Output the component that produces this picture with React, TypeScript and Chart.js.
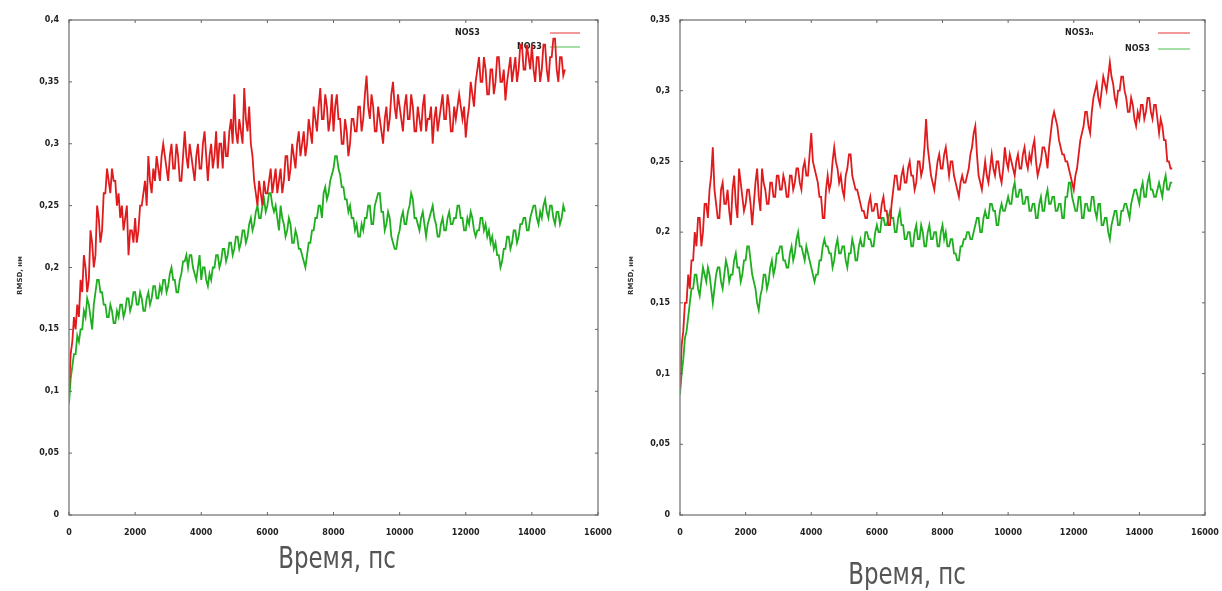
import React, { useEffect, useRef } from "react";
import { Chart, registerables } from "chart.js";

Chart.register(...registerables);

// ---------- DATA ----------
const TIME_STEP = 50; // ps between samples
const X_TICKS = [0, 2000, 4000, 6000, 8000, 10000, 12000, 14000, 16000];

// Left panel
const LEFT_Y_TICKS = [0, 0.05, 0.1, 0.15, 0.2, 0.25, 0.3, 0.35, 0.4];
const LEFT_LABELS = ["NOS3", "NOS3"];
const LEFT_RED = [
  0.10, 0.13, 0.14, 0.16, 0.15, 0.17, 0.16, 0.19, 0.18, 0.21,
  0.20, 0.18, 0.19, 0.23, 0.22, 0.20, 0.21, 0.25, 0.24, 0.22,
  0.23, 0.26, 0.26, 0.28, 0.27, 0.26, 0.28, 0.27, 0.27, 0.25,
  0.26, 0.24, 0.25, 0.23, 0.24, 0.25, 0.21, 0.23, 0.23, 0.22,
  0.24, 0.22, 0.23, 0.25, 0.25, 0.26, 0.27, 0.25, 0.29, 0.27,
  0.26, 0.28, 0.27, 0.29, 0.28, 0.27, 0.29, 0.30, 0.29, 0.28,
  0.27, 0.29, 0.30, 0.28, 0.28, 0.30, 0.29, 0.27, 0.27, 0.29,
  0.31, 0.29, 0.28, 0.30, 0.29, 0.28, 0.27, 0.29, 0.30, 0.28,
  0.28, 0.30, 0.31, 0.29, 0.27, 0.29, 0.30, 0.28, 0.29, 0.31,
  0.28, 0.30, 0.30, 0.28, 0.31, 0.29, 0.29, 0.31, 0.32, 0.30,
  0.34, 0.31, 0.30, 0.32, 0.31, 0.30, 0.345, 0.32, 0.31, 0.33,
  0.30, 0.29, 0.27, 0.26, 0.25, 0.27, 0.26, 0.25, 0.27, 0.26,
  0.26, 0.27, 0.28, 0.26, 0.27, 0.28, 0.26, 0.27, 0.28, 0.26,
  0.27, 0.29, 0.29, 0.27, 0.28, 0.30, 0.29, 0.28, 0.30, 0.31,
  0.29, 0.30, 0.31, 0.29, 0.30, 0.32, 0.31, 0.30, 0.33, 0.32,
  0.31, 0.33, 0.345, 0.32, 0.32, 0.34, 0.33, 0.31, 0.32, 0.34,
  0.31, 0.33, 0.34, 0.32, 0.32, 0.30, 0.30, 0.32, 0.31, 0.29,
  0.30, 0.32, 0.32, 0.31, 0.31, 0.33, 0.33, 0.31, 0.32, 0.34,
  0.355, 0.33, 0.32, 0.34, 0.33, 0.31, 0.31, 0.33, 0.32, 0.31,
  0.30, 0.32, 0.33, 0.31, 0.32, 0.34, 0.35, 0.33, 0.32, 0.34,
  0.33, 0.32, 0.31, 0.33, 0.34, 0.32, 0.32, 0.34, 0.33, 0.31,
  0.31, 0.33, 0.32, 0.31, 0.33, 0.34, 0.31, 0.32, 0.32, 0.33,
  0.30, 0.32, 0.33, 0.31, 0.32, 0.33, 0.34, 0.32, 0.32, 0.34,
  0.33, 0.31, 0.31, 0.33, 0.32, 0.33, 0.34, 0.33, 0.32, 0.33,
  0.305, 0.32, 0.33, 0.35, 0.34, 0.33, 0.35, 0.36, 0.37, 0.35,
  0.35, 0.37, 0.36, 0.34, 0.34, 0.36, 0.36, 0.34, 0.35, 0.37,
  0.37, 0.35, 0.35, 0.36, 0.335, 0.35, 0.36, 0.37, 0.35, 0.36,
  0.37, 0.35, 0.36, 0.38, 0.38, 0.36, 0.36, 0.38, 0.37, 0.36,
  0.38, 0.36, 0.35, 0.37, 0.37, 0.35, 0.36, 0.38, 0.38, 0.36,
  0.35, 0.37, 0.37, 0.385, 0.385, 0.36, 0.35, 0.37, 0.37, 0.355,
  0.36,
];
const LEFT_GREEN = [
  0.09, 0.11, 0.12, 0.13, 0.13, 0.145, 0.14, 0.15, 0.15, 0.165,
  0.16, 0.175, 0.17, 0.16, 0.15, 0.17, 0.18, 0.19, 0.19, 0.18,
  0.18, 0.17, 0.17, 0.16, 0.16, 0.17, 0.165, 0.155, 0.155, 0.165,
  0.16, 0.17, 0.17, 0.16, 0.165, 0.175, 0.175, 0.165, 0.17, 0.18,
  0.18, 0.17, 0.17, 0.18, 0.175, 0.165, 0.165, 0.175, 0.18, 0.17,
  0.175, 0.185, 0.185, 0.175, 0.175, 0.185, 0.18, 0.19, 0.19, 0.18,
  0.185, 0.195, 0.20, 0.19, 0.19, 0.18, 0.18, 0.19, 0.195, 0.205,
  0.205, 0.21, 0.20, 0.21, 0.21, 0.20, 0.195, 0.19, 0.20, 0.21,
  0.19, 0.20, 0.20, 0.19, 0.185, 0.195, 0.19, 0.20, 0.20, 0.21,
  0.21, 0.20, 0.205, 0.215, 0.215, 0.205, 0.21, 0.22, 0.22, 0.21,
  0.215, 0.225, 0.225, 0.215, 0.22, 0.23, 0.23, 0.22, 0.225, 0.235,
  0.24, 0.23, 0.235, 0.245, 0.25, 0.24, 0.24, 0.25, 0.255, 0.245,
  0.25, 0.26, 0.26, 0.25, 0.245, 0.25, 0.24, 0.23, 0.25, 0.24,
  0.235, 0.225, 0.23, 0.24, 0.235, 0.22, 0.22, 0.23, 0.225, 0.215,
  0.215, 0.21, 0.205, 0.20, 0.21, 0.22, 0.22, 0.23, 0.23, 0.24,
  0.24, 0.25, 0.25, 0.24, 0.26, 0.265, 0.255, 0.26, 0.27, 0.275,
  0.28, 0.29, 0.29, 0.28, 0.275, 0.265, 0.265, 0.255, 0.255, 0.245,
  0.25, 0.24, 0.24, 0.23, 0.235, 0.225, 0.225, 0.235, 0.23, 0.24,
  0.24, 0.25, 0.25, 0.235, 0.235, 0.25, 0.255, 0.26, 0.26, 0.245,
  0.245, 0.23, 0.235, 0.245, 0.24, 0.225, 0.22, 0.215, 0.215, 0.225,
  0.23, 0.24, 0.245, 0.235, 0.235, 0.245, 0.25, 0.26, 0.255, 0.24,
  0.24, 0.235, 0.23, 0.24, 0.245, 0.235, 0.225, 0.235, 0.24, 0.245,
  0.25, 0.24, 0.235, 0.225, 0.225, 0.235, 0.24, 0.23, 0.23, 0.24,
  0.245, 0.235, 0.235, 0.24, 0.24, 0.25, 0.25, 0.24, 0.24, 0.23,
  0.23, 0.24, 0.235, 0.245, 0.24, 0.23, 0.225, 0.23, 0.23, 0.24,
  0.24, 0.23, 0.235, 0.225, 0.23, 0.22, 0.225, 0.215, 0.22, 0.21,
  0.21, 0.20, 0.205, 0.215, 0.215, 0.225, 0.225, 0.215, 0.22, 0.23,
  0.23, 0.22, 0.225, 0.235, 0.235, 0.24, 0.24, 0.23, 0.23, 0.24,
  0.245, 0.25, 0.25, 0.24, 0.235, 0.245, 0.24, 0.25, 0.255, 0.245,
  0.24, 0.25, 0.25, 0.24, 0.235, 0.245, 0.245, 0.235, 0.24, 0.25,
  0.245,
];

// Right panel
const RIGHT_Y_TICKS = [0, 0.05, 0.1, 0.15, 0.2, 0.25, 0.3, 0.35];
const RIGHT_LABELS = ["NOS3\u2099", "NOS3"];
const RIGHT_RED = [
  0.09, 0.12, 0.13, 0.15, 0.15, 0.17, 0.16, 0.18, 0.18, 0.20,
  0.19, 0.21, 0.21, 0.19, 0.20, 0.22, 0.22, 0.21, 0.23, 0.24,
  0.26, 0.23, 0.22, 0.21, 0.21, 0.23, 0.235, 0.22, 0.22, 0.23,
  0.215, 0.205, 0.23, 0.24, 0.22, 0.21, 0.245, 0.235, 0.225, 0.215,
  0.22, 0.23, 0.23, 0.22, 0.205, 0.22, 0.235, 0.245, 0.225, 0.215,
  0.245, 0.235, 0.23, 0.22, 0.22, 0.235, 0.235, 0.225, 0.225, 0.24,
  0.24, 0.23, 0.23, 0.24, 0.235, 0.225, 0.225, 0.24, 0.24, 0.23,
  0.235, 0.245, 0.245, 0.235, 0.23, 0.245, 0.25, 0.24, 0.24, 0.255,
  0.27, 0.25, 0.245, 0.24, 0.235, 0.225, 0.225, 0.21, 0.21, 0.23,
  0.24, 0.23, 0.235, 0.25, 0.26, 0.25, 0.245, 0.235, 0.24, 0.23,
  0.225, 0.24, 0.245, 0.255, 0.255, 0.24, 0.235, 0.23, 0.23, 0.225,
  0.22, 0.215, 0.215, 0.21, 0.21, 0.22, 0.225, 0.215, 0.215, 0.22,
  0.22, 0.21, 0.21, 0.22, 0.225, 0.215, 0.215, 0.205, 0.205, 0.22,
  0.23, 0.24, 0.24, 0.23, 0.23, 0.24, 0.245, 0.235, 0.235, 0.245,
  0.25, 0.24, 0.24, 0.23, 0.235, 0.25, 0.25, 0.24, 0.245, 0.26,
  0.28, 0.26, 0.25, 0.24, 0.235, 0.23, 0.24, 0.25, 0.255, 0.245,
  0.245, 0.255, 0.26, 0.25, 0.24, 0.25, 0.25, 0.24, 0.235, 0.23,
  0.225, 0.235, 0.24, 0.235, 0.235, 0.24, 0.245, 0.255, 0.26, 0.27,
  0.275, 0.255, 0.24, 0.235, 0.23, 0.24, 0.25, 0.24, 0.235, 0.245,
  0.255, 0.245, 0.24, 0.25, 0.25, 0.24, 0.235, 0.245, 0.26, 0.25,
  0.245, 0.255, 0.25, 0.245, 0.24, 0.25, 0.255, 0.245, 0.245, 0.255,
  0.26, 0.25, 0.245, 0.255, 0.25, 0.26, 0.265, 0.25, 0.24, 0.245,
  0.25, 0.26, 0.26, 0.255, 0.245, 0.26, 0.27, 0.28, 0.285, 0.28,
  0.275, 0.265, 0.26, 0.255, 0.255, 0.25, 0.25, 0.245, 0.24, 0.235,
  0.23, 0.24, 0.245, 0.255, 0.265, 0.27, 0.275, 0.285, 0.285, 0.275,
  0.27, 0.285, 0.295, 0.30, 0.305, 0.295, 0.29, 0.30, 0.31, 0.305,
  0.30, 0.31, 0.32, 0.31, 0.305, 0.295, 0.29, 0.30, 0.30, 0.31,
  0.31, 0.30, 0.295, 0.285, 0.285, 0.295, 0.29, 0.28, 0.275, 0.285,
  0.28, 0.29, 0.29, 0.28, 0.285, 0.295, 0.295, 0.285, 0.28, 0.29,
  0.29, 0.28, 0.27, 0.28, 0.275, 0.265, 0.265, 0.25, 0.25, 0.245,
  0.245,
];
const RIGHT_GREEN = [
  0.085, 0.10, 0.11, 0.125, 0.13, 0.14, 0.15, 0.16, 0.16, 0.17,
  0.17, 0.16, 0.155, 0.165, 0.175, 0.17, 0.165, 0.175, 0.17, 0.16,
  0.15, 0.16, 0.17, 0.175, 0.175, 0.165, 0.16, 0.17, 0.18, 0.175,
  0.165, 0.17, 0.17, 0.18, 0.185, 0.175, 0.175, 0.165, 0.17, 0.18,
  0.18, 0.19, 0.19, 0.18, 0.17, 0.165, 0.16, 0.15, 0.145, 0.155,
  0.16, 0.17, 0.17, 0.16, 0.165, 0.175, 0.18, 0.17, 0.175, 0.185,
  0.185, 0.19, 0.19, 0.18, 0.18, 0.175, 0.175, 0.185, 0.19, 0.18,
  0.185, 0.195, 0.20, 0.19, 0.19, 0.185, 0.18, 0.19, 0.185, 0.18,
  0.175, 0.17, 0.165, 0.17, 0.17, 0.18, 0.18, 0.19, 0.195, 0.19,
  0.19, 0.185, 0.185, 0.175, 0.18, 0.19, 0.195, 0.185, 0.185, 0.19,
  0.19, 0.18, 0.175, 0.185, 0.185, 0.195, 0.19, 0.18, 0.18, 0.19,
  0.195, 0.19, 0.19, 0.20, 0.20, 0.195, 0.195, 0.19, 0.19, 0.20,
  0.205, 0.20, 0.20, 0.21, 0.21, 0.205, 0.205, 0.21, 0.215, 0.21,
  0.21, 0.20, 0.20, 0.21, 0.215, 0.205, 0.205, 0.195, 0.195, 0.20,
  0.20, 0.19, 0.19, 0.20, 0.205, 0.195, 0.195, 0.205, 0.20, 0.19,
  0.19, 0.20, 0.205, 0.195, 0.195, 0.20, 0.20, 0.19, 0.19, 0.20,
  0.205, 0.195, 0.20, 0.19, 0.19, 0.195, 0.195, 0.185, 0.185, 0.18,
  0.18, 0.19, 0.19, 0.195, 0.195, 0.20, 0.20, 0.195, 0.195, 0.20,
  0.205, 0.21, 0.21, 0.20, 0.20, 0.21, 0.215, 0.21, 0.21, 0.22,
  0.22, 0.215, 0.215, 0.205, 0.205, 0.215, 0.22, 0.215, 0.215, 0.22,
  0.225, 0.22, 0.22, 0.23, 0.235, 0.225, 0.225, 0.23, 0.23, 0.22,
  0.22, 0.225, 0.225, 0.215, 0.215, 0.22, 0.22, 0.21, 0.21, 0.22,
  0.225, 0.215, 0.215, 0.225, 0.23, 0.22, 0.22, 0.225, 0.225, 0.215,
  0.215, 0.22, 0.22, 0.21, 0.21, 0.225, 0.225, 0.235, 0.235, 0.225,
  0.22, 0.215, 0.215, 0.225, 0.225, 0.21, 0.21, 0.22, 0.22, 0.215,
  0.215, 0.225, 0.225, 0.215, 0.21, 0.22, 0.22, 0.205, 0.205, 0.21,
  0.21, 0.20, 0.195, 0.205, 0.21, 0.215, 0.215, 0.205, 0.205, 0.215,
  0.215, 0.22, 0.22, 0.215, 0.21, 0.22, 0.225, 0.23, 0.23, 0.225,
  0.22, 0.23, 0.235, 0.225, 0.225, 0.235, 0.24, 0.23, 0.23, 0.225,
  0.225, 0.23, 0.235, 0.23, 0.225, 0.235, 0.24, 0.23, 0.23, 0.235,
  0.235,
];

const Y_TITLE = "RMSD, нм";
const X_TITLE = "Время, пс";

// ---------- STYLE ----------
const RED = "#e01b1d";
const GREEN = "#1fae1f";
const FRAME = "#8a8a8a";

const fmt = (v: number) => {
  const r = Math.round(v * 100) / 100;
  return String(r).replace(".", ",");
};

type PanelProps = {
  red: number[];
  green: number[];
  yMax: number;
  yTicks: number[];
  labels: string[];
  width: number;
  rightPad: number;
  legend: { tx1: number; tx2: number; lx1: number; lx2: number; y1: number; y2: number };
  yTitleX: number;
};

function Panel(props: PanelProps) {
  const ref = useRef<HTMLCanvasElement | null>(null);
  useEffect(() => {
    const canvas = ref.current;
    if (!canvas) return;
    const toPts = (arr: number[]) => arr.map((v, i) => ({ x: i * TIME_STEP, y: v }));

    const framePlugin = {
      id: "gnuframe",
      beforeDatasetsDraw(chart: any) {
        const { ctx, chartArea: a } = chart;
        ctx.save();
        const L = props.legend;
        ctx.font = "bold 8px 'DejaVu Sans', sans-serif";
        ctx.fillStyle = "#222";
        ctx.textBaseline = "middle";
        ctx.textAlign = "left";
        ctx.fillText(props.labels[0], a.left + L.tx1, a.top + L.y1);
        ctx.fillText(props.labels[1], a.left + L.tx2, a.top + L.y2);
        ctx.lineWidth = 2;
        ctx.strokeStyle = "rgba(224,27,29,0.45)";
        ctx.beginPath();
        ctx.moveTo(a.left + L.lx1, a.top + L.y1);
        ctx.lineTo(a.left + L.lx2, a.top + L.y1);
        ctx.stroke();
        ctx.strokeStyle = "rgba(31,174,31,0.4)";
        ctx.beginPath();
        ctx.moveTo(a.left + L.lx1, a.top + L.y2);
        ctx.lineTo(a.left + L.lx2, a.top + L.y2);
        ctx.stroke();
        ctx.restore();
      },
      afterDraw(chart: any) {
        const { ctx, chartArea: a, scales } = chart;
        ctx.save();
        ctx.strokeStyle = FRAME;
        ctx.lineWidth = 1.5;
        ctx.strokeRect(a.left, a.top, a.right - a.left, a.bottom - a.top);
        ctx.lineWidth = 1;
        ctx.strokeStyle = "#666";
        const tl = 3;
        for (const t of X_TICKS) {
          const x = scales.x.getPixelForValue(t);
          ctx.beginPath();
          ctx.moveTo(x, a.bottom);
          ctx.lineTo(x, a.bottom - tl);
          ctx.moveTo(x, a.top);
          ctx.lineTo(x, a.top + tl);
          ctx.stroke();
        }
        for (const t of props.yTicks) {
          const y = scales.y.getPixelForValue(t);
          ctx.beginPath();
          ctx.moveTo(a.left, y);
          ctx.lineTo(a.left + tl, y);
          ctx.moveTo(a.right, y);
          ctx.lineTo(a.right - tl, y);
          ctx.stroke();
        }
        ctx.translate(props.yTitleX, (a.top + a.bottom) / 2 + 8);
        ctx.rotate(-Math.PI / 2);
        ctx.font = "bold 7px 'DejaVu Sans', sans-serif";
        ctx.fillStyle = "#333";
        ctx.textAlign = "center";
        ctx.textBaseline = "middle";
        ctx.fillText(Y_TITLE, 0, 0);
        ctx.restore();
      },
    };

    const chart = new Chart(canvas, {
      type: "line",
      data: {
        datasets: [
          {
            label: props.labels[0],
            data: toPts(props.red),
            borderColor: RED,
            borderWidth: 1.8,
            pointRadius: 0,
            tension: 0,
          },
          {
            label: props.labels[1],
            data: toPts(props.green),
            borderColor: GREEN,
            borderWidth: 1.8,
            pointRadius: 0,
            tension: 0,
          },
        ],
      },
      options: {
        animation: false,
        responsive: false,
        maintainAspectRatio: false,
        layout: { padding: { top: 20, right: props.rightPad, left: 0, bottom: 0 } },
        plugins: { legend: { display: false }, tooltip: { enabled: false } },
        scales: {
          x: {
            type: "linear",
            min: 0,
            max: 16000,
            afterBuildTicks: (s: any) => {
              s.ticks = X_TICKS.map((v) => ({ value: v }));
            },
            afterFit: (s: any) => {
              s.height = 76;
              s.paddingLeft = 0;
              s.paddingRight = 0;
            },
            grid: { display: false, drawTicks: false },
            border: { display: false },
            ticks: {
              font: { family: "'DejaVu Sans', sans-serif", size: 8, weight: "bold" },
              color: "#222",
              padding: 13,
              maxRotation: 0,
              autoSkip: false,
              callback: (v: any) => String(v),
            },
          },
          y: {
            type: "linear",
            min: 0,
            max: props.yMax,
            afterBuildTicks: (s: any) => {
              s.ticks = props.yTicks.map((v) => ({ value: v }));
            },
            afterFit: (s: any) => {
              s.width = 69;
              s.paddingTop = 0;
              s.paddingBottom = 0;
            },
            grid: { display: false, drawTicks: false },
            border: { display: false },
            ticks: {
              font: { family: "'DejaVu Sans', sans-serif", size: 8, weight: "bold" },
              color: "#222",
              padding: 10,
              autoSkip: false,
              callback: (v: any) => fmt(Number(v)),
            },
          },
        },
      },
      plugins: [framePlugin],
    } as any);
    return () => chart.destroy();
  }, []);
  return <canvas ref={ref} width={props.width} height={591} style={{ display: "block" }} />;
}

const titleStyle: React.CSSProperties = {
  position: "absolute",
  fontFamily: "'Liberation Sans Narrow', 'DejaVu Sans Condensed', 'Open Sans', sans-serif",
  fontSize: 30,
  color: "#555",
  transform: "translate(-50%, -50%) scaleX(0.85)",
  whiteSpace: "nowrap",
  lineHeight: 1,
};

export default function App() {
  return (
    <div style={{ position: "fixed", left: 0, top: 0, width: 1222, height: 591, background: "#fff", overflow: "hidden" }}>
      <div style={{ position: "absolute", left: 0, top: 0 }}>
        <Panel
          red={LEFT_RED}
          green={LEFT_GREEN}
          yMax={0.4}
          yTicks={LEFT_Y_TICKS}
          labels={LEFT_LABELS}
          width={626}
          rightPad={28}
          legend={{ tx1: 386, tx2: 448, lx1: 481, lx2: 511, y1: 13, y2: 27 }}
          yTitleX={20}
        />
      </div>
      <div style={{ position: "absolute", left: 611, top: 0 }}>
        <Panel
          red={RIGHT_RED}
          green={RIGHT_GREEN}
          yMax={0.35}
          yTicks={RIGHT_Y_TICKS}
          labels={RIGHT_LABELS}
          width={611}
          rightPad={17}
          legend={{ tx1: 385, tx2: 445, lx1: 478, lx2: 510, y1: 13, y2: 29 }}
          yTitleX={20}
        />
      </div>
      <div style={{ ...titleStyle, left: 337, top: 558 }}>{X_TITLE}</div>
      <div style={{ ...titleStyle, left: 907, top: 574 }}>{X_TITLE}</div>
    </div>
  );
}
